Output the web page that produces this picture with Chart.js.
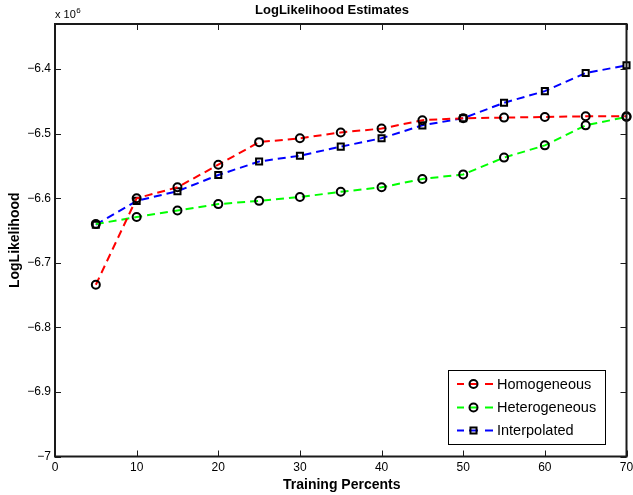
<!DOCTYPE html>
<html><head><meta charset="utf-8">
<script src="https://cdn.jsdelivr.net/npm/chart.js@4/dist/chart.umd.min.js"></script>
<style>html,body{margin:0;padding:0;background:#fff}#wrap{width:633px;height:495px}</style>
</head><body><div id="wrap"><canvas id="c" width="633" height="495"></canvas></div>
<script>
const trainingPercents = [5, 10, 15, 20, 25, 30, 35, 40, 45, 50, 55, 60, 65, 70];
const homogeneous   = [-6.734, -6.600, -6.583, -6.548, -6.513, -6.507, -6.498, -6.492, -6.479, -6.476, -6.475, -6.474, -6.473, -6.473];
const heterogeneous = [-6.640, -6.629, -6.619, -6.609, -6.604, -6.598, -6.590, -6.583, -6.570, -6.563, -6.537, -6.518, -6.487, -6.474];
const interpolated  = [-6.641, -6.604, -6.589, -6.564, -6.543, -6.534, -6.520, -6.507, -6.487, -6.476, -6.452, -6.434, -6.406, -6.394];
const seriesNames = ['Homogeneous', 'Heterogeneous', 'Interpolated'];
const xTicks = [0, 10, 20, 30, 40, 50, 60, 70];
const yTicks = [-7, -6.9, -6.8, -6.7, -6.6, -6.5, -6.4];
const yTickLabels = ['\u22127', '\u22126.9', '\u22126.8', '\u22126.7', '\u22126.6', '\u22126.5', '\u22126.4'];
const chartTitle = 'LogLikelihood Estimates';
const xTitle = 'Training Percents';
const yTitle = 'LogLikelihood';
const yExponent = '6';

const FONT = "'Liberation Sans', Arial, Helvetica, sans-serif";
const colors = ['#ff0000', '#00ff00', '#0000ff'];
const styles = ['circle', 'circle', 'rect'];
const seriesValues = [homogeneous, heterogeneous, interpolated];

const datasets = seriesNames.map((name, k) => ({
  label: name,
  data: trainingPercents.map((x, i) => ({x: x, y: seriesValues[k][i]})),
  borderColor: colors[k],
  borderWidth: 2,
  borderDash: [8, 5],
  fill: false,
  tension: 0,
  pointStyle: styles[k],
  pointRadius: styles[k] === 'rect' ? 4.3 : 4,
  pointBorderColor: '#000',
  pointBackgroundColor: 'rgba(0,0,0,0)',
  pointBorderWidth: 2,
  clip: false
}));

const decor = {
  id: 'decor',
  afterDraw(chart) {
    const ctx = chart.ctx;
    const a = chart.chartArea;
    const xs = chart.scales.x, ys = chart.scales.y;
    ctx.save();
    // axes box
    ctx.strokeStyle = '#1a1a1a';
    ctx.lineWidth = 2;
    ctx.setLineDash([]);
    const L = a.left, R = a.right, T = a.top, B = a.bottom;
    ctx.strokeRect(L, T, R - L, B - T);
    // inward ticks
    ctx.lineWidth = 1;
    ctx.beginPath();
    xTicks.forEach(v => {
      const px = Math.round(xs.getPixelForValue(v)) + 0.5;
      ctx.moveTo(px, B); ctx.lineTo(px, B - 6);
      ctx.moveTo(px, T); ctx.lineTo(px, T + 6);
    });
    yTicks.forEach(v => {
      const py = Math.round(ys.getPixelForValue(v)) + 0.5;
      ctx.moveTo(L, py); ctx.lineTo(L + 6, py);
      ctx.moveTo(R, py); ctx.lineTo(R - 6, py);
    });
    ctx.stroke();

    ctx.fillStyle = '#000';
    // title
    ctx.font = 'bold 13px ' + FONT;
    ctx.textAlign = 'center'; ctx.textBaseline = 'alphabetic';
    ctx.fillText(chartTitle, 332, 14);
    // x title
    ctx.font = 'bold 14px ' + FONT;
    ctx.fillText(xTitle, (a.left + a.right) / 2 + 1, 488.5);
    // y title
    ctx.save();
    ctx.translate(18.5, (a.top + a.bottom) / 2);
    ctx.rotate(-Math.PI / 2);
    ctx.fillText(yTitle, 0, 0);
    ctx.restore();
    // exponent
    ctx.textAlign = 'left';
    ctx.font = '11px ' + FONT;
    ctx.fillText('x 10', a.left, 17.5);
    const w = ctx.measureText('x 10').width;
    ctx.font = '8px ' + FONT;
    ctx.fillText(yExponent, a.left + w + 0.5, 13);

    // legend
    const bx = 448.5, by = 370.5, bw = 157, bh = 74;
    ctx.fillStyle = '#fff';
    ctx.fillRect(bx, by, bw, bh);
    ctx.strokeStyle = '#000'; ctx.lineWidth = 1;
    ctx.strokeRect(bx, by, bw, bh);
    const rows = [384, 407.5, 430.5];
    chart.data.datasets.forEach((ds, k) => {
      const y = rows[k];
      ctx.strokeStyle = ds.borderColor; ctx.lineWidth = 2;
      ctx.beginPath();
      ctx.moveTo(457, y); ctx.lineTo(464, y);
      ctx.moveTo(469, y); ctx.lineTo(478, y);
      ctx.moveTo(485, y); ctx.lineTo(493, y);
      ctx.stroke();
      ctx.strokeStyle = '#000'; ctx.lineWidth = 2;
      const mx = 473.5;
      ctx.beginPath();
      if (ds.pointStyle === 'rect') {
        const s = ds.pointRadius * Math.SQRT1_2;
        ctx.rect(mx - s, y - s, 2 * s, 2 * s);
      } else {
        ctx.arc(mx, y, ds.pointRadius, 0, Math.PI * 2);
      }
      ctx.stroke();
      ctx.fillStyle = '#000';
      ctx.font = '14.5px ' + FONT;
      ctx.textAlign = 'left'; ctx.textBaseline = 'middle';
      ctx.fillText(ds.label, 497, y + 0.5);
    });
    ctx.restore();
  }
};

new Chart(document.getElementById('c'), {
  type: 'line',
  data: {datasets: datasets},
  options: {
    responsive: false,
    animation: false,
    devicePixelRatio: 1,
    layout: {padding: {left: 0, top: 24, right: 6.5, bottom: 0}},
    plugins: {legend: {display: false}, title: {display: false}, tooltip: {enabled: false}},
    scales: {
      x: {
        type: 'linear', min: 0, max: 70,
        afterBuildTicks: s => { s.ticks = xTicks.map(v => ({value: v})); },
        afterFit: s => { s.height = 38.5; s.paddingLeft = 0; s.paddingRight = 0; },
        grid: {display: false, drawTicks: false, tickLength: 0}, border: {display: false},
        ticks: {color: '#000', font: {family: FONT, size: 12}, padding: 4, maxRotation: 0, autoSkip: false}
      },
      y: {
        type: 'linear', min: -7, max: -6.33,
        afterBuildTicks: s => { s.ticks = yTicks.map(v => ({value: v})); },
        afterFit: s => { s.width = 55; s.paddingTop = 0; s.paddingBottom = 0; },
        grid: {display: false, drawTicks: false, tickLength: 0}, border: {display: false},
        ticks: {color: '#000', font: {family: FONT, size: 12}, padding: 4, autoSkip: false,
          callback: (v, i) => yTickLabels[i]}
      }
    }
  },
  plugins: [decor]
});
</script></body></html>
